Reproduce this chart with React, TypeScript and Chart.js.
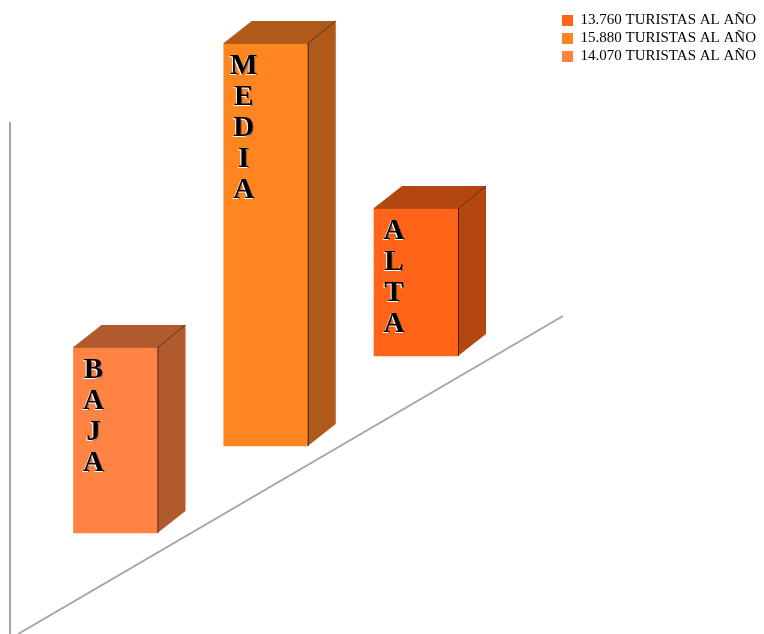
import React, { useEffect, useRef } from "react";
import { Chart, registerables } from "chart.js";

Chart.register(...registerables);

// ---- data ----
const categories = ["BAJA", "MEDIA", "ALTA"];
const legendLabels = [
  "13.760 TURISTAS AL AÑO",
  "15.880 TURISTAS AL AÑO",
  "14.070 TURISTAS AL AÑO",
];
// which category each series sits in (position on the x axis = index + 1)
const seriesCategory = [2, 1, 0];
// floating bar ranges (bottom, top) in chart units
const barLows = [278, 188, 101];
const barHighs = [426, 591, 287];

// ---- styles ----
const frontColors = ["#FF6418", "#FF8520", "#FF8444"];
const sideColors = ["#B4460F", "#AF5A18", "#B15A2E"];
const DEPTH_X = 28;
const DEPTH_Y = -22;

const threeDPlugin = {
  id: "threeD",
  beforeDatasetsDraw(chart: any) {
    const ctx = chart.ctx;
    ctx.save();
    ctx.strokeStyle = "#A6A6A6";
    ctx.lineWidth = 2;
    ctx.beginPath();
    ctx.moveTo(10, 122);
    ctx.lineTo(10, 634);
    ctx.stroke();
    ctx.beginPath();
    ctx.moveTo(18, 634);
    ctx.lineTo(563, 316);
    ctx.stroke();
    ctx.restore();
  },
  afterDatasetsDraw(chart: any) {
    const ctx = chart.ctx;
    chart.data.datasets.forEach((ds: any, i: number) => {
      const meta = chart.getDatasetMeta(i);
      const el = meta.data[0];
      if (!el) return;
      const left = el.x - el.width / 2;
      const right = el.x + el.width / 2;
      const top = Math.min(el.y, el.base);
      const bottom = Math.max(el.y, el.base);
      ctx.save();
      ctx.fillStyle = sideColors[i];
      // top face
      ctx.beginPath();
      ctx.moveTo(left, top);
      ctx.lineTo(left + DEPTH_X, top + DEPTH_Y);
      ctx.lineTo(right + DEPTH_X, top + DEPTH_Y);
      ctx.lineTo(right, top);
      ctx.closePath();
      ctx.fill();
      // side face
      ctx.beginPath();
      ctx.moveTo(right, top);
      ctx.lineTo(right + DEPTH_X, top + DEPTH_Y);
      ctx.lineTo(right + DEPTH_X, bottom + DEPTH_Y);
      ctx.lineTo(right, bottom);
      ctx.closePath();
      ctx.fill();
      // edges
      ctx.strokeStyle = "rgba(40,20,10,0.75)";
      ctx.lineWidth = 1;
      ctx.beginPath();
      ctx.moveTo(right + 0.5, bottom);
      ctx.lineTo(right + 0.5, top);
      ctx.lineTo(right + DEPTH_X, top + DEPTH_Y);
      ctx.stroke();
      ctx.strokeStyle = "rgba(60,30,10,0.35)";
      ctx.beginPath();
      ctx.moveTo(left, top + 0.5);
      ctx.lineTo(right, top + 0.5);
      ctx.stroke();

      // vertical letters
      const label = categories[seriesCategory[i]];
      ctx.font = "bold 29px 'Liberation Serif', 'Times New Roman', serif";
      ctx.textAlign = "center";
      ctx.textBaseline = "alphabetic";
      const cx = left + 20;
      for (let k = 0; k < label.length; k++) {
        const cy = top + 21 + k * 31;
        const by = cy + 10;
        ctx.fillStyle = "rgba(80,80,80,0.55)";
        ctx.fillText(label[k], cx + 1, by + 1);
        ctx.fillStyle = "#FFFFFF";
        ctx.fillText(label[k], cx - 1, by + 1);
        ctx.fillStyle = "#000000";
        ctx.fillText(label[k], cx, by);
      }
      ctx.restore();
    });
  },
};

export default function App() {
  const ref = useRef<HTMLCanvasElement | null>(null);
  useEffect(() => {
    if (!ref.current) return;
    const chart = new Chart(ref.current, {
      type: "bar",
      data: {
        datasets: legendLabels.map((lab, i) => ({
          label: lab,
          data: [{ x: seriesCategory[i] + 1, y: [barLows[i], barHighs[i]] }],
          backgroundColor: frontColors[i],
          borderWidth: 0,
          grouped: false,
          barThickness: 84,
        })),
      } as any,
      options: {
        animation: false,
        responsive: false,
        layout: { padding: { top: 10, right: 5, left: 0, bottom: 0 } },
        scales: {
          x: { type: "linear", display: false, offset: false, min: 0.2313, max: 3.9518 },
          y: { type: "linear", display: false, min: 0, max: 624 },
        },
        plugins: {
          tooltip: { enabled: false },
          legend: {
            position: "right",
            align: "start",
            maxWidth: 200,
            labels: {
              boxWidth: 11,
              boxHeight: 11,
              padding: 3,
              color: "#000000",
              font: { family: "'Liberation Serif', 'Times New Roman', serif", size: 15 },
            },
          },
        },
      } as any,
      plugins: [threeDPlugin],
    });
    return () => chart.destroy();
  }, []);
  return (
    <div style={{ position: "absolute", left: 0, top: 0, width: 764, height: 634, background: "#fff" }}>
      <canvas ref={ref} width={764} height={634} style={{ display: "block" }} />
    </div>
  );
}
